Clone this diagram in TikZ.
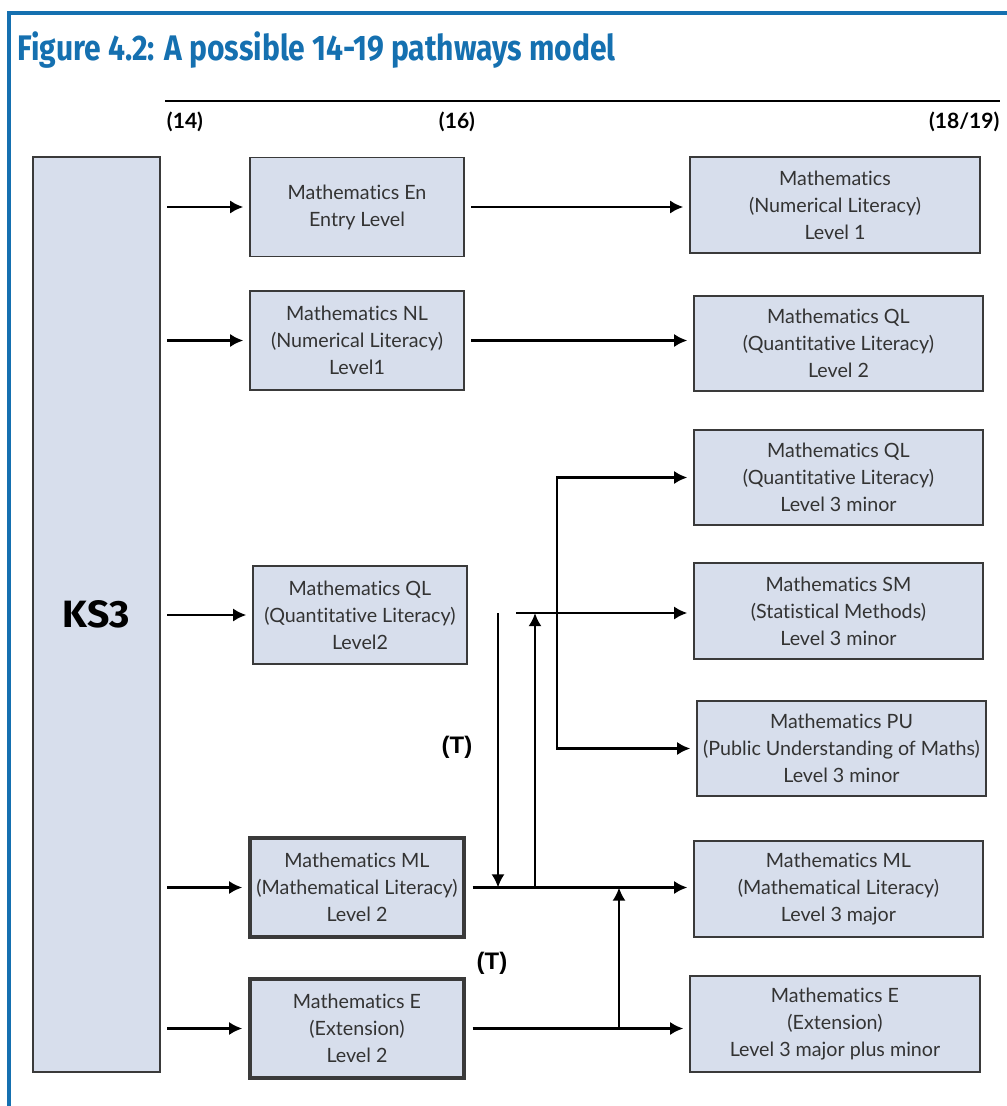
\documentclass[tikz,border=0pt]{standalone}
\usepackage{fontspec}
\setmainfont{Lato}[Ligatures=NoCommon]
\newfontfamily\headfont{Fira Sans}
\newfontfamily\tfont{Liberation Sans}
\usetikzlibrary{arrows.meta}
\definecolor{frameblue}{HTML}{1570B0}
\definecolor{boxfill}{HTML}{D7DEEC}
\definecolor{boxline}{HTML}{3A3A3A}

\begin{document}
\begin{tikzpicture}[x=0.025cm, y=-0.025cm, thick, >={Latex[length=0.33cm,width=0.33cm]},
    main/.style = {draw=boxline, fill=boxfill, rectangle, align=center, inner sep=0pt, line width=0.9pt, text=black!80, font=\fontsize{14}{19.2}\selectfont},
    col2/.style = {main, minimum width=5.35cm, minimum height=2.475cm},
    col3/.style = {main, minimum width=7.225cm, minimum height=2.4cm},
    link/.style = {->, line width=1.8pt},
    feed/.style = {link, shorten <=0.17cm, shorten >=0.15cm},
    age/.style = {font=\fontsize{15}{18}\selectfont\bfseries},
    tlab/.style = {font=\tfont\fontsize{17}{20}\selectfont\bfseries}]
    \useasboundingbox (0,0) rectangle (1007,1106);
    % frame and title
    \draw[frameblue, line width=2.2pt] (9,1106) -- (9,13) -- (1007,13);
    \node[anchor=base west, inner sep=0pt, text=frameblue] (title) at (17,60) {\resizebox{14.95cm}{0.72cm}{\headfont\bfseries Figure 4.2: A possible 14-19 pathways model}};
    \draw[line width=0.8pt] (165,101) -- (1000,101);
    \node[age] (a14) at (185,122) {(14)};
    \node[age] (a16) at (457,122) {(16)};
    \node[age, anchor=east, inner sep=0pt] (a18) at (1000,122) {(18/19)};

    \node[main, minimum width=3.175cm, minimum height=22.875cm] (1) at (96.5,614.5) {\resizebox{1.675cm}{0.675cm}{\headfont\bfseries\color{black} KS3}};
    % age 14-16
    \node[col2] (2) at (357,207) {Mathematics En\\Entry Level};
    \node[col2] (3) at (357,340.5) {Mathematics NL\\(Numerical Literacy)\\Level1};
    \node[col2, minimum height=2.45cm] (4) at (360,615) {Mathematics QL\\(Quantitative Literacy)\\Level2};
    \node[col2, line width=2.4pt] (5) at (357,887.5) {Mathematics ML\\(Mathematical Literacy)\\Level 2};
    \node[col2, line width=2.4pt] (6) at (357,1028.5) {Mathematics E\\(Extension)\\Level 2};
    % age 16-19
    \node[col3, minimum width=7.25cm] (7) at (835,205) {Mathematics\\(Numerical Literacy)\\Level 1};
    \node[col3, minimum height=2.375cm] (8) at (838.5,343.5) {Mathematics QL\\(Quantitative Literacy)\\Level 2};
    \node[col3, minimum height=2.375cm] (9) at (838.5,477.5) {Mathematics QL\\(Quantitative Literacy)\\Level 3 minor};
    \node[col3] (10) at (838.5,611) {Mathematics SM\\(Statistical Methods)\\Level 3 minor};
    \node[col3, minimum height=2.375cm] (11) at (841.5,748.5) {Mathematics PU\\(Public Understanding of Maths)\\Level 3 minor};
    \node[col3] (12) at (838.5,889) {Mathematics ML\\(Mathematical Literacy)\\Level 3 major};
    \node[col3, minimum width=7.25cm] (13) at (835,1024) {Mathematics E\\(Extension)\\Level 3 major plus minor};

    \node[tlab] (t1) at (457,747) {(T)};
    \node[tlab] (t2) at (492,963) {(T)};

    \foreach \n in {2,...,6}
        \draw[feed] (1.east |- \n.west) -- (\n.west);
    \draw[feed] (2.east) -- (2.east -| 7.west);
    \draw[feed] (3.east) -- (3.east -| 8.west);
    \draw[feed] (5.east) -- (5.east -| 12.west);
    \draw[feed] (6.east) -- (6.east -| 13.west);

    \coordinate (q) at (516,613);
    \coordinate (b) at (557,613);
    \draw[link, shorten >=0.15cm] (q) -- (q -| 10.west);
    \draw[link, shorten >=0.15cm] (b) |- (9.west);
    \draw[link, shorten >=0.15cm] (b) |- (11.west);

    \coordinate (d1) at (498,613);
    \coordinate (d2) at (535,613);
    \coordinate (d3) at (619,960);
    \draw[link] (d1) -- (d1 |- 5.east);
    \draw[link] ([yshift=0.05cm]d2 |- 5.east) -- (d2);
    \draw[link] (d3 |- 6.east) -- (d3 |- 5.east);
\end{tikzpicture}
\end{document}
